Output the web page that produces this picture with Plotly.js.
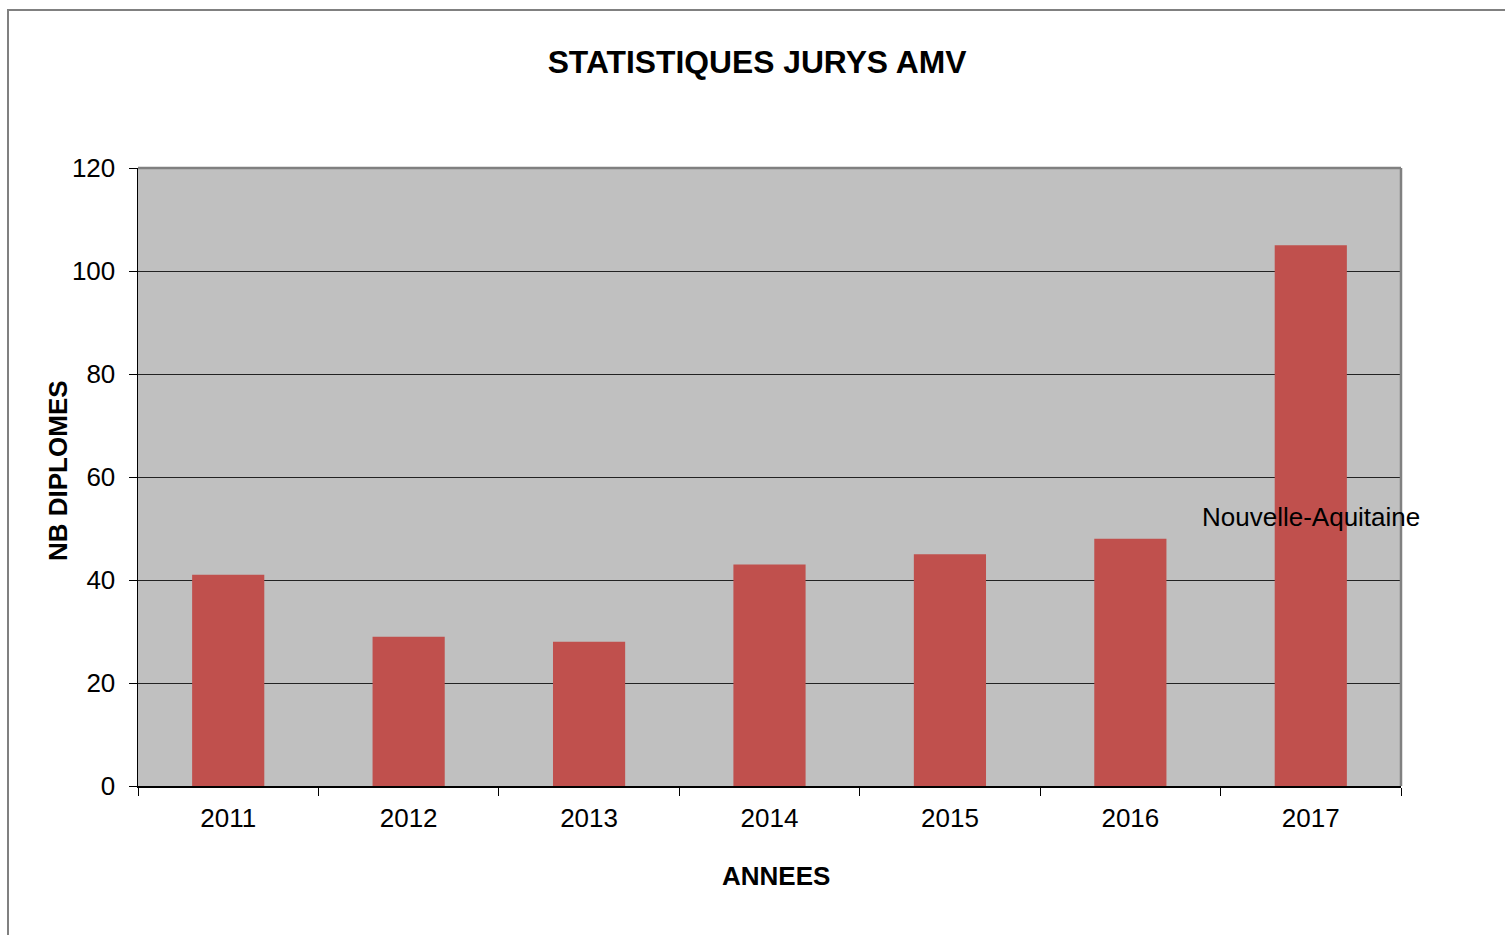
<!DOCTYPE html>
<html>
<head>
<meta charset="utf-8">
<script src="https://cdn.plot.ly/plotly-3.0.1.min.js"></script>
<style>
html,body{margin:0;padding:0;background:#fff;}
#chart{width:1505px;height:935px;}
</style>
</head>
<body>
<div id="chart"></div>
<script>
const years = ['2011','2012','2013','2014','2015','2016','2017'];
const diplomes = [41, 29, 28, 43, 45, 48, 105];
const seriesName = 'Nouvelle-Aquitaine';
const yTicks = [0, 20, 40, 60, 80, 100, 120];
const xTitle = 'ANNEES';
const yTitle = 'NB DIPLOMES';

const FONT = 'Liberation Sans, Arial, sans-serif';

const trace = {
  type: 'bar',
  x: years,
  y: diplomes,
  name: seriesName,
  marker: {color: '#C0504D', line: {width: 0}},
  hoverinfo: 'x+y'
};

const layout = {
  width: 1505,
  height: 935,
  margin: {l: 138, r: 104, t: 168, b: 149, pad: 0},
  paper_bgcolor: '#ffffff',
  plot_bgcolor: '#C0C0C0',
  showlegend: false,
  bargap: 0.6,
  font: {family: FONT, color: '#000', size: 26},
  title: {
    text: '<b>STATISTIQUES JURYS AMV</b>',
    font: {family: FONT, size: 31.8, color: '#000'},
    xref: 'container', x: 0.503, xanchor: 'center',
    yref: 'container', y: 1 - 62/935, yanchor: 'middle'
  },
  xaxis: {
    type: 'category',
    categoryorder: 'array',
    categoryarray: years,
    range: [-0.5, years.length - 0.5],
    autorange: false,
    ticks: 'outside',
    tickson: 'boundaries',
    ticklen: 8,
    tickcolor: '#000',
    tickwidth: 1,
    tickangle: 0,
    showline: true,
    linecolor: '#000',
    linewidth: 1.5,
    showgrid: false,
    zeroline: false,
    tickfont: {family: FONT, size: 26, color: '#000'},
    ticklabelstandoff: 8
  },
  yaxis: {
    range: [0, 120],
    autorange: false,
    tickvals: yTicks,
    ticktext: yTicks.map(String),
    ticks: 'outside',
    ticklen: 8,
    tickcolor: '#000',
    tickwidth: 1,
    showline: true,
    linecolor: '#000',
    linewidth: 1.5,
    showgrid: true,
    gridcolor: '#222',
    gridwidth: 1,
    zeroline: false,
    tickfont: {family: FONT, size: 26, color: '#000'},
    ticklabelstandoff: 8
  },
  annotations: [
    {
      x: years.length - 1,
      y: 52.2,
      xref: 'x', yref: 'y',
      text: seriesName,
      showarrow: false,
      font: {family: FONT, size: 26, color: '#000'},
      xanchor: 'center', yanchor: 'middle'
    },
    {
      x: (776 - 138) / 1263, y: (786 - 876) / 618,
      xref: 'paper', yref: 'paper',
      text: '<b>' + xTitle + '</b>',
      showarrow: false,
      font: {family: FONT, size: 26, color: '#000'},
      xanchor: 'center', yanchor: 'middle'
    },
    {
      x: (58 - 138) / 1263, y: (786 - 471) / 618,
      xref: 'paper', yref: 'paper',
      text: '<b>' + yTitle + '</b>',
      textangle: -90,
      showarrow: false,
      font: {family: FONT, size: 26, color: '#000'},
      xanchor: 'center', yanchor: 'middle'
    }
  ],
  shapes: [
    {type: 'line', xref: 'paper', yref: 'paper', x0: 0, x1: 1, y0: 1, y1: 1,
     line: {color: '#808080', width: 2.5}, layer: 'above'},
    {type: 'line', xref: 'paper', yref: 'paper', x0: 1, x1: 1, y0: 0, y1: 1,
     line: {color: '#808080', width: 2.5}, layer: 'above'},
    {type: 'rect', xref: 'paper', yref: 'paper',
     x0: (8 - 138) / 1263, x1: 2, y0: -1, y1: (786 - 10) / 618,
     line: {color: '#808080', width: 2}, fillcolor: 'rgba(0,0,0,0)', layer: 'above'}
  ]
};

Plotly.newPlot('chart', [trace], layout, {displayModeBar: false, staticPlot: true});
</script>
</body>
</html>
